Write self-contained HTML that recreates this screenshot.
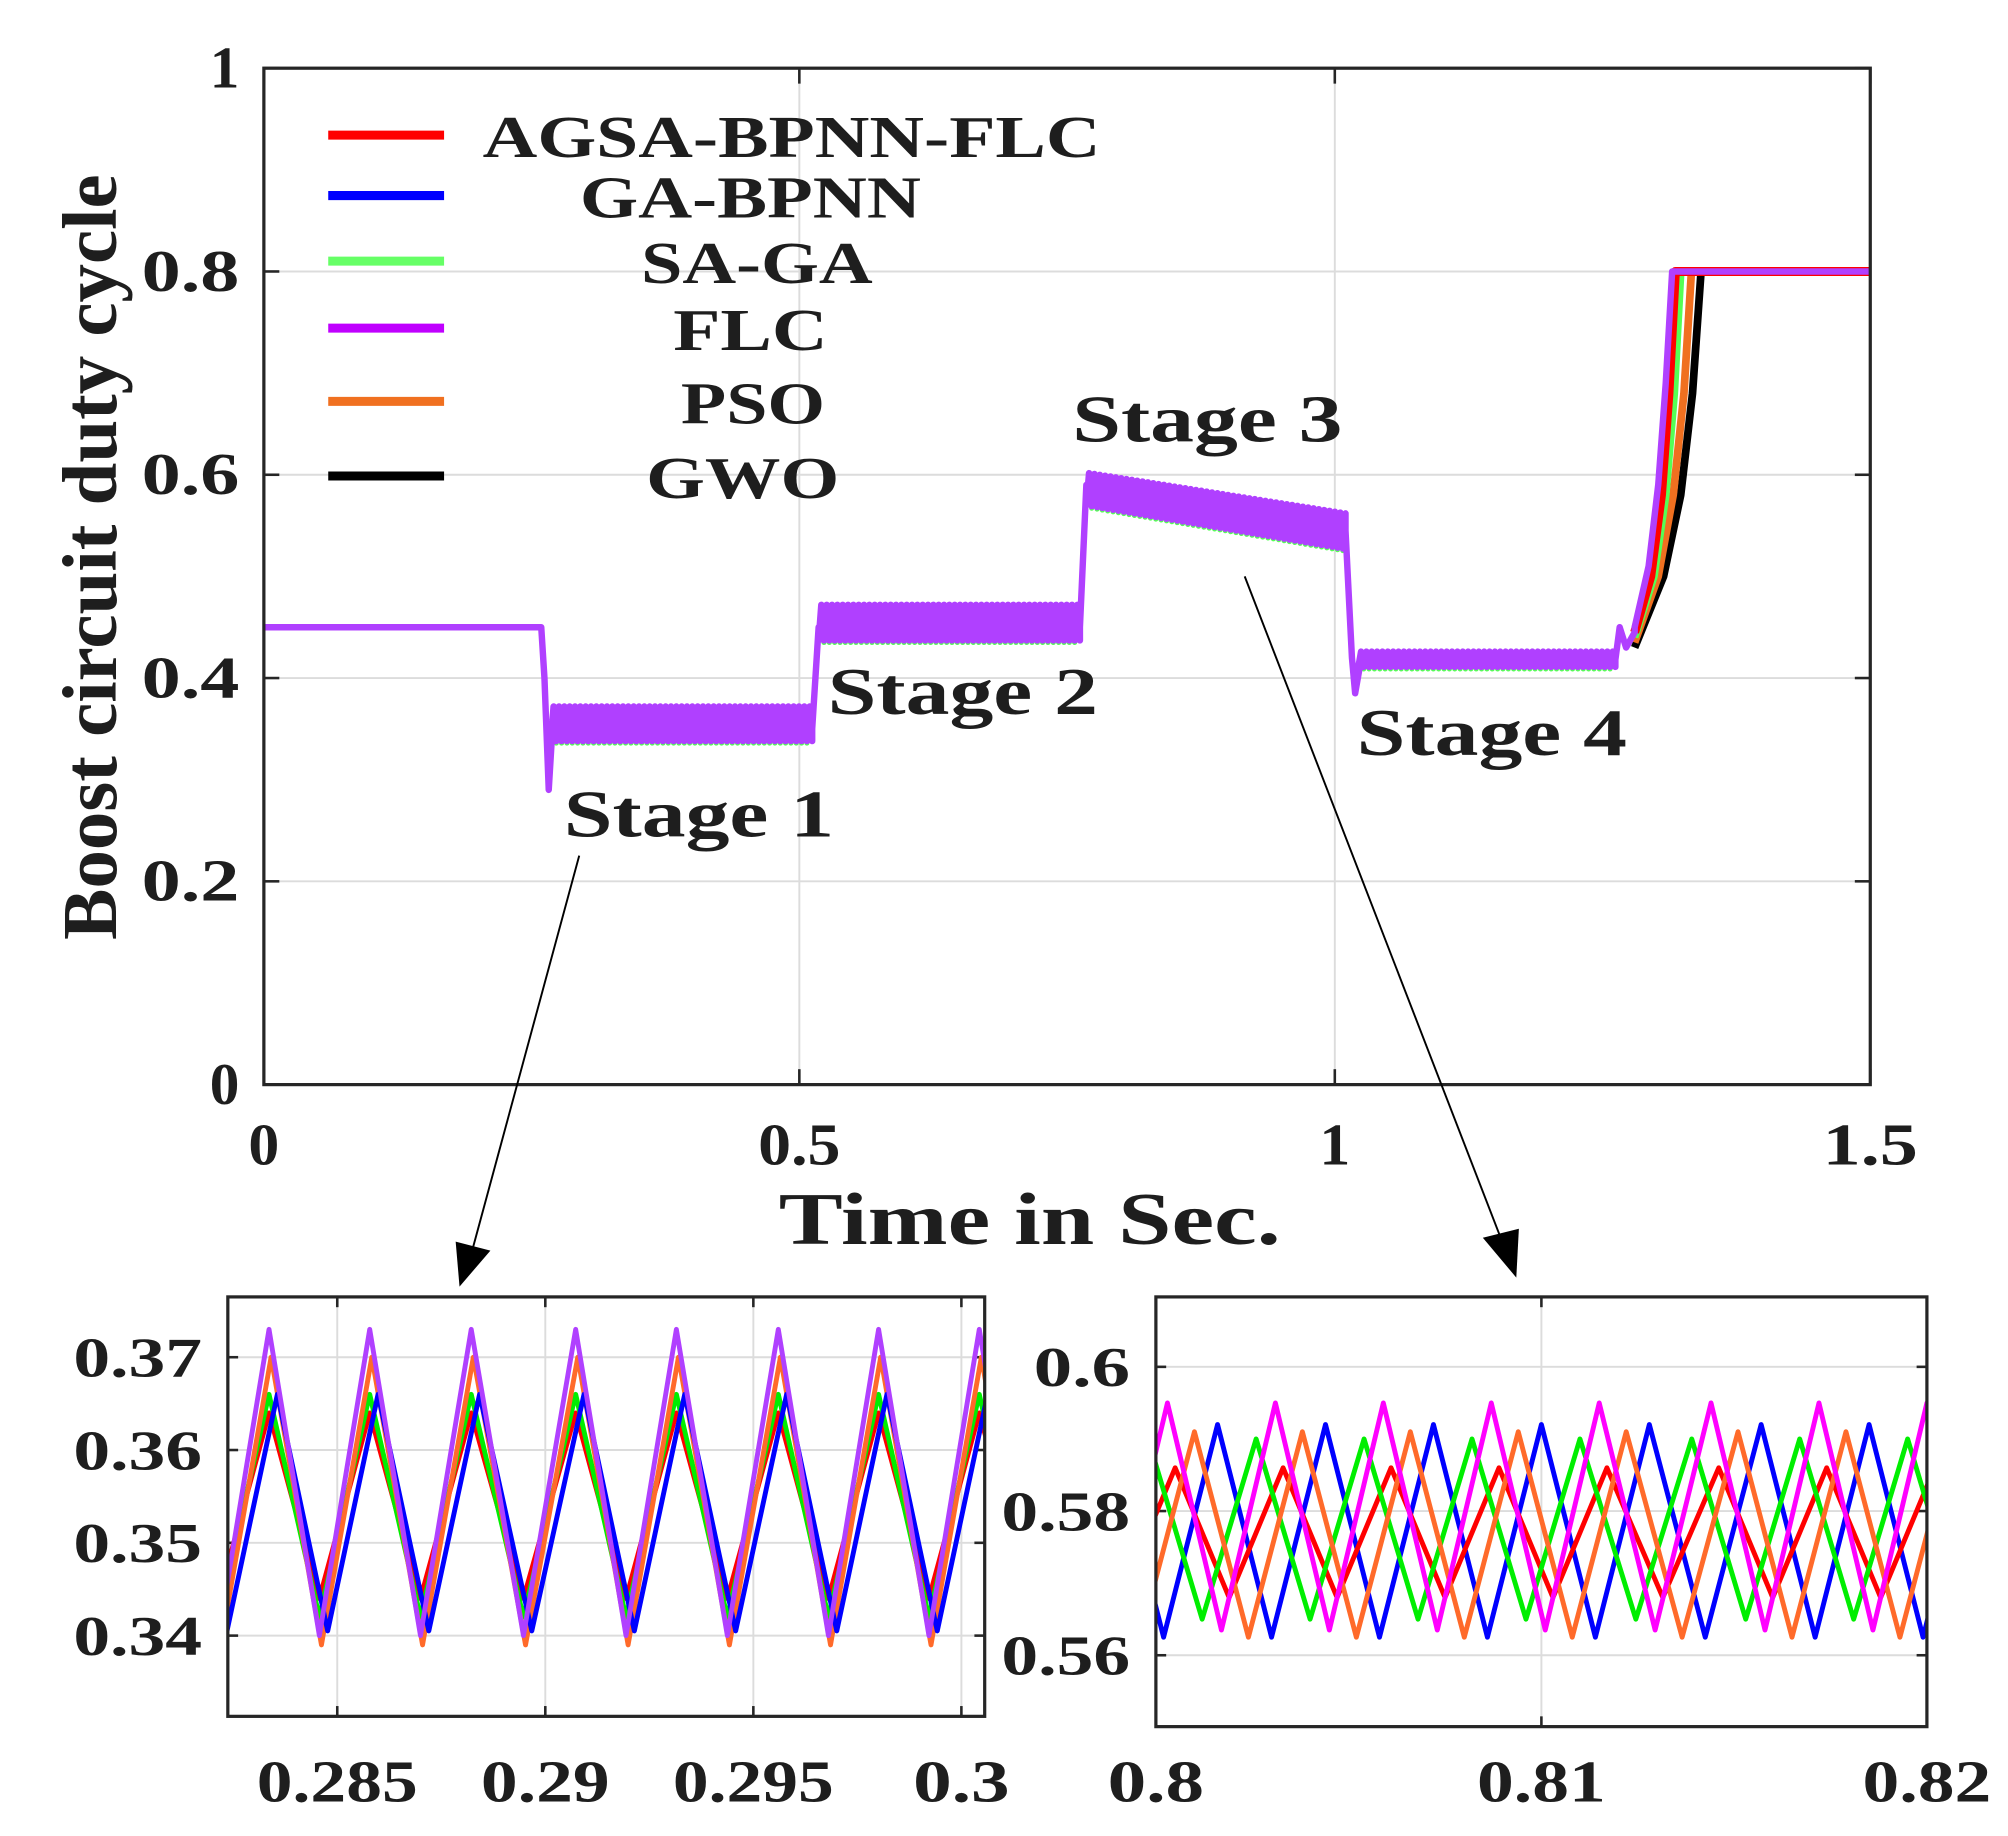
<!DOCTYPE html>
<html><head><meta charset="utf-8"><style>
html,body{margin:0;padding:0;background:#fff;}
svg{display:block;}
text{font-family:"Liberation Serif",serif;font-weight:bold;fill:#1e1e1e;}
</style></head><body>
<svg id="chart" width="2008" height="1836" viewBox="0 0 1560 1427" preserveAspectRatio="none" xmlns="http://www.w3.org/2000/svg">
<g id="main"></g>
<g id="in1"></g>
<g id="in2"></g>
<g id="ann"></g>
</svg>
<script>
// ---------- main chart data ----------
const seriesNames = ["AGSA-BPNN-FLC","GA-BPNN","SA-GA","FLC","PSO","GWO"];
const seriesColors = ["#ff0000","#0000ff","#55ff55","#b040ff","#f07020","#000000"];
const xTicks = [0,0.5,1,1.5];
const xTickLabels = ["0","0.5","1","1.5"];
const yTicks = [0,0.2,0.4,0.6,0.8,1];
const yTickLabels = ["0","0.2","0.4","0.6","0.8","1"];
// oscillation bands: [tStart, tEnd, lowStart, highStart, lowEnd, highEnd]
const bands = [
  [0.268,0.512,0.338,0.372,0.338,0.372],
  [0.518,0.762,0.437,0.472,0.437,0.472],
  [0.768,1.010,0.570,0.602,0.527,0.562],
  [1.022,1.262,0.411,0.426,0.411,0.426]
];
const pre = [[0,0.45],[0.259,0.45],[0.262,0.40],[0.266,0.29],[0.270,0.36]];
const trans12 = [[0.512,0.35],[0.518,0.45]];
const trans23 = [[0.762,0.45],[0.768,0.59]];
const trans34 = [[1.010,0.545],[1.016,0.42],[1.019,0.385],[1.024,0.415]];
const bump = [[1.262,0.418],[1.266,0.45],[1.272,0.43],[1.28,0.445]];
const riseT = {
  red:[[1.28,0.445],[1.295,0.50],[1.305,0.58],[1.312,0.68],[1.318,0.80],[1.5,0.8]],
  blue:[[1.28,0.445],[1.295,0.50],[1.305,0.58],[1.312,0.68],[1.318,0.80],[1.5,0.8]],
  green:[[1.28,0.44],[1.298,0.50],[1.309,0.58],[1.317,0.68],[1.323,0.80],[1.5,0.8]],
  orange:[[1.28,0.435],[1.302,0.50],[1.316,0.58],[1.326,0.68],[1.333,0.80],[1.5,0.8]],
  black:[[1.28,0.43],[1.307,0.50],[1.323,0.58],[1.334,0.68],[1.342,0.80],[1.5,0.8]],
  purple:[[1.28,0.45],[1.293,0.51],[1.302,0.59],[1.309,0.69],[1.315,0.80],[1.5,0.8]]
};
// ---------- inset 1 data ----------
const in1XTicks=[0.285,0.29,0.295,0.3];
const in1XLabels=["0.285","0.29","0.295","0.3"];
const in1YTicks=[0.34,0.35,0.36,0.37];
const in1YLabels=["0.34","0.35","0.36","0.37"];
const in1Peaks=[0.28336,0.28578,0.28822,0.29073,0.29315,0.29560,0.29801,0.30043];
const in1Offset={red:0.0,blue:0.0002,green:0.0,purple:0.0,orange:0.00005};
const in1High={red:0.364,blue:0.366,green:0.366,purple:0.373,orange:0.370};
const in1Low={red:0.344,blue:0.3405,green:0.342,purple:0.340,orange:0.339};
// ---------- inset 2 data ----------
const in2XTicks=[0.8,0.81,0.82];
const in2XLabels=["0.8","0.81","0.82"];
const in2YTicks=[0.56,0.58,0.6];
const in2YLabels=["0.56","0.58","0.6"];
const in2Peaks=[0.7975,0.8003,0.8031,0.8059,0.8087,0.8115,0.8144,0.8172,0.8200,0.8228];
const in2Offset={blue:0.0013,green:-0.0005,red:0.0002,orange:0.0007,magenta:0.0};
const in2High={blue:0.592,green:0.590,red:0.586,orange:0.591,magenta:0.595};
const in2Low={blue:0.5625,green:0.565,red:0.568,orange:0.5625,magenta:0.5635};

const NS="http://www.w3.org/2000/svg";
function mk(parent,tag,attrs){const e=document.createElementNS(NS,tag);for(const k in attrs)e.setAttribute(k,attrs[k]);parent.appendChild(e);return e;}
function txt(parent,x,y,s,size,anchor){const t=mk(parent,'text',{x:x,y:y,'font-size':size,'text-anchor':anchor||'middle'});t.textContent=s;return t;}

const M=document.getElementById('main');
const L=205,R=1453,T=53,B=843;
const mx=v=>L+(v-0)/1.5*(R-L), my=v=>B-(v)*(B-T);
const xLabW=[24,64,24,74];
for(let i=0;i<xTicks.length;i++){
  const g=mk(M,'line',{x1:mx(xTicks[i]),x2:mx(xTicks[i]),y1:T,y2:B,stroke:'#dcdcdc','stroke-width':1.5});
  
  
  const t=txt(M,mx(xTicks[i]),905,xTickLabels[i],46);
  t.setAttribute('textLength',xLabW[i]);t.setAttribute('lengthAdjust','spacingAndGlyphs');
  
  
}
for(let i=0;i<yTicks.length;i++){
  const g=mk(M,'line',{x1:L,x2:R,y1:my(yTicks[i]),y2:my(yTicks[i]),stroke:'#dcdcdc','stroke-width':1.5});
  
  
  mk(M,'line',{x1:L,x2:L+12,y1:my(yTicks[i]),y2:my(yTicks[i]),stroke:'#262626','stroke-width':2});
  mk(M,'line',{x1:R,x2:R-12,y1:my(yTicks[i]),y2:my(yTicks[i]),stroke:'#262626','stroke-width':2});
  const t=txt(M,186,my(yTicks[i])+15,yTickLabels[i],46,'end');
  if(yTickLabels[i].length>1){t.setAttribute('textLength',76);t.setAttribute('lengthAdjust','spacingAndGlyphs');}
  
  
}
function poly(parent,pts,color,w,name,fx,fy){
  const p=mk(parent,'polyline',{points:pts.map(q=>fx(q[0]).toFixed(2)+','+fy(q[1]).toFixed(2)).join(' '),fill:'none',stroke:color,'stroke-width':w,'stroke-linejoin':'round'});
  
  
  return p;
}
poly(M,riseT.black,'#000',6,'series-gwo',mx,my);
poly(M,riseT.orange,'#f07020',6,'series-pso',mx,my);
poly(M,riseT.green,'#55ff55',6,'series-sa-ga',mx,my);
poly(M,riseT.blue,'#0000ff',6,'series-ga-bpnn',mx,my);
poly(M,riseT.red,'#ff0000',7,'series-agsa-bpnn-flc',mx,my);
function bandPts(b,dy){
  const pts=[];const n=Math.round((b[1]-b[0])/0.0025);
  for(let k=0;k<=n;k++){const f=k/n;const t=b[0]+f*(b[1]-b[0]);
    const lo=b[2]+f*(b[4]-b[2]),hi=b[3]+f*(b[5]-b[3]);
    pts.push([t,(k%2?hi:lo)+dy]);}
  return pts;
}
bands.forEach(b=>{poly(M,bandPts(b,-0.002),'#55ff55',4,'band-sa-ga',mx,my);});
const purplePath=[].concat(pre);
bands.forEach((b,i)=>{
  bandPts(b,0).forEach(p=>purplePath.push(p));
  if(i==0) trans12.forEach(p=>purplePath.push(p));
  if(i==1) trans23.forEach(p=>purplePath.push(p));
  if(i==2) trans34.forEach(p=>purplePath.push(p));
});
bump.forEach(p=>purplePath.push(p));
riseT.purple.forEach(p=>purplePath.push(p));
poly(M,purplePath,'#b040ff',5,'series-flc',mx,my);
bands.forEach(b=>{
  const pg=mk(M,'polygon',{points:[[b[0],b[2]],[b[1],b[4]],[b[1],b[5]],[b[0],b[3]]].map(q=>mx(q[0])+','+my(q[1])).join(' '),fill:'#b040ff'});
  
  
});
mk(M,'rect',{x:L,y:T,width:R-L,height:B-T,fill:'none',stroke:'#262626','stroke-width':2.5});
for(let i=0;i<xTicks.length;i++){mk(M,'line',{x1:mx(xTicks[i]),x2:mx(xTicks[i]),y1:B,y2:B-12,stroke:'#262626','stroke-width':2});mk(M,'line',{x1:mx(xTicks[i]),x2:mx(xTicks[i]),y1:T,y2:T+12,stroke:'#262626','stroke-width':2});}
const legY=[105,152,203,255,312,370];
const legX=[615,583,588,583,585,577];
const legLen=[480,265,180,120,112,150];
const legCol=["#ff0000","#0000ff","#66ff66","#c000ff","#f07020","#000000"];
for(let i=0;i<6;i++){
  const l=mk(M,'line',{x1:255,x2:345,y1:legY[i],y2:legY[i],stroke:legCol[i],'stroke-width':7});
  
  
  const t=txt(M,legX[i],legY[i]+17,seriesNames[i],46);
  t.setAttribute('textLength',legLen[i]);t.setAttribute('lengthAdjust','spacingAndGlyphs');
  
  
}
const yt=txt(M,0,0,'Boost circuit duty cycle',60);
yt.setAttribute('transform','translate(90,433) rotate(-90)');
yt.setAttribute('textLength',595);yt.setAttribute('lengthAdjust','spacingAndGlyphs');


const xt=txt(M,800,967,'Time in Sec.',58);
xt.setAttribute('textLength',390);xt.setAttribute('lengthAdjust','spacingAndGlyphs');



function inset(gid,box,xr,yr,xt,xl,yt,yl,keys,cols,peaks,off,hi,lo,names){
  const G=document.getElementById(gid);
  const [l,t,r,b]=box;
  const fx=v=>l+(v-xr[0])/(xr[1]-xr[0])*(r-l), fy=v=>b-(v-yr[0])/(yr[1]-yr[0])*(b-t);
  const clip=mk(G,'clipPath',{id:gid+'c'});mk(clip,'rect',{x:l,y:t,width:r-l,height:b-t});
  xt.forEach((v,i)=>{
    const g=mk(G,'line',{x1:fx(v),x2:fx(v),y1:t,y2:b,stroke:'#dcdcdc','stroke-width':1.5});
    
    
    mk(G,'line',{x1:fx(v),x2:fx(v),y1:b,y2:b-8,stroke:'#262626','stroke-width':2});
    mk(G,'line',{x1:fx(v),x2:fx(v),y1:t,y2:t+8,stroke:'#262626','stroke-width':2});
    const tx=txt(G,fx(v),1400,xl[i],46);
    tx.setAttribute('textLength',xl[i].length*25);tx.setAttribute('lengthAdjust','spacingAndGlyphs');
    
    
  });
  yt.forEach((v,i)=>{
    const g=mk(G,'line',{x1:l,x2:r,y1:fy(v),y2:fy(v),stroke:'#dcdcdc','stroke-width':1.5});
    
    
    mk(G,'line',{x1:l,x2:l+8,y1:fy(v),y2:fy(v),stroke:'#262626','stroke-width':2});
    mk(G,'line',{x1:r,x2:r-8,y1:fy(v),y2:fy(v),stroke:'#262626','stroke-width':2});
    const tx=txt(G,l-20,fy(v)+15,yl[i],44,'end');
    tx.setAttribute('textLength',yl[i].length*25);tx.setAttribute('lengthAdjust','spacingAndGlyphs');
    
    
  });
  const cg=mk(G,'g',{'clip-path':'url(#'+gid+'c)'});
  keys.forEach((k,j)=>{
    const pts=[];
    for(let i=0;i<peaks.length;i++){
      const p=peaks[i]+off[k];
      pts.push([p,hi[k]]);
      if(i<peaks.length-1){pts.push([(peaks[i]+peaks[i+1])/2+off[k],lo[k]]);}
    }
    pts.unshift([peaks[0]-(peaks[1]-peaks[0])/2+off[k],lo[k]]);
    pts.push([peaks[peaks.length-1]+(peaks[1]-peaks[0])/2+off[k],lo[k]]);
    poly(cg,pts,cols[j],3.8,names[j],fx,fy);
  });
  mk(G,'rect',{x:l,y:t,width:r-l,height:b-t,fill:'none',stroke:'#262626','stroke-width':2.5});
}
inset('in1',[177,1008,765,1334],[0.28237,0.30056],[0.3313,0.3765],in1XTicks,in1XLabels,in1YTicks,in1YLabels,
  ['red','green','orange','blue','purple'],['#ff0000','#00ee00','#ff6a2a','#0000ff','#b040ff'],in1Peaks,in1Offset,in1High,in1Low,
  ['inset1-agsa','inset1-sa-ga','inset1-pso','inset1-ga-bpnn','inset1-flc']);
inset('in2',[898,1008,1497,1342],[0.8,0.82],[0.5501,0.6097],in2XTicks,in2XLabels,in2YTicks,in2YLabels,
  ['blue','red','green','orange','magenta'],['#0000ff','#ff0000','#00ee00','#ff6a2a','#ff00ff'],in2Peaks,in2Offset,in2High,in2Low,
  ['inset2-ga-bpnn','inset2-agsa','inset2-sa-ga','inset2-pso','inset2-flc']);

const A=document.getElementById('ann');
[['Stage 1',543,650],['Stage 2',748,555],['Stage 3',938,343],['Stage 4',1159,587]].forEach(s=>{
  const t=txt(A,s[1],s[2],s[0],52);
  t.setAttribute('textLength',210);t.setAttribute('lengthAdjust','spacingAndGlyphs');
  
  
});
const a1=mk(A,'line',{x1:450,y1:665,x2:366,y2:975,stroke:'#000','stroke-width':1.5});


mk(A,'polygon',{points:'357,1000 354,965 381,972',fill:'#000'});
const a2=mk(A,'line',{x1:967,y1:448,x2:1167,y2:965,stroke:'#000','stroke-width':1.5});


mk(A,'polygon',{points:'1178,993 1152,962 1180,955',fill:'#000'});
</script>
</body></html>
